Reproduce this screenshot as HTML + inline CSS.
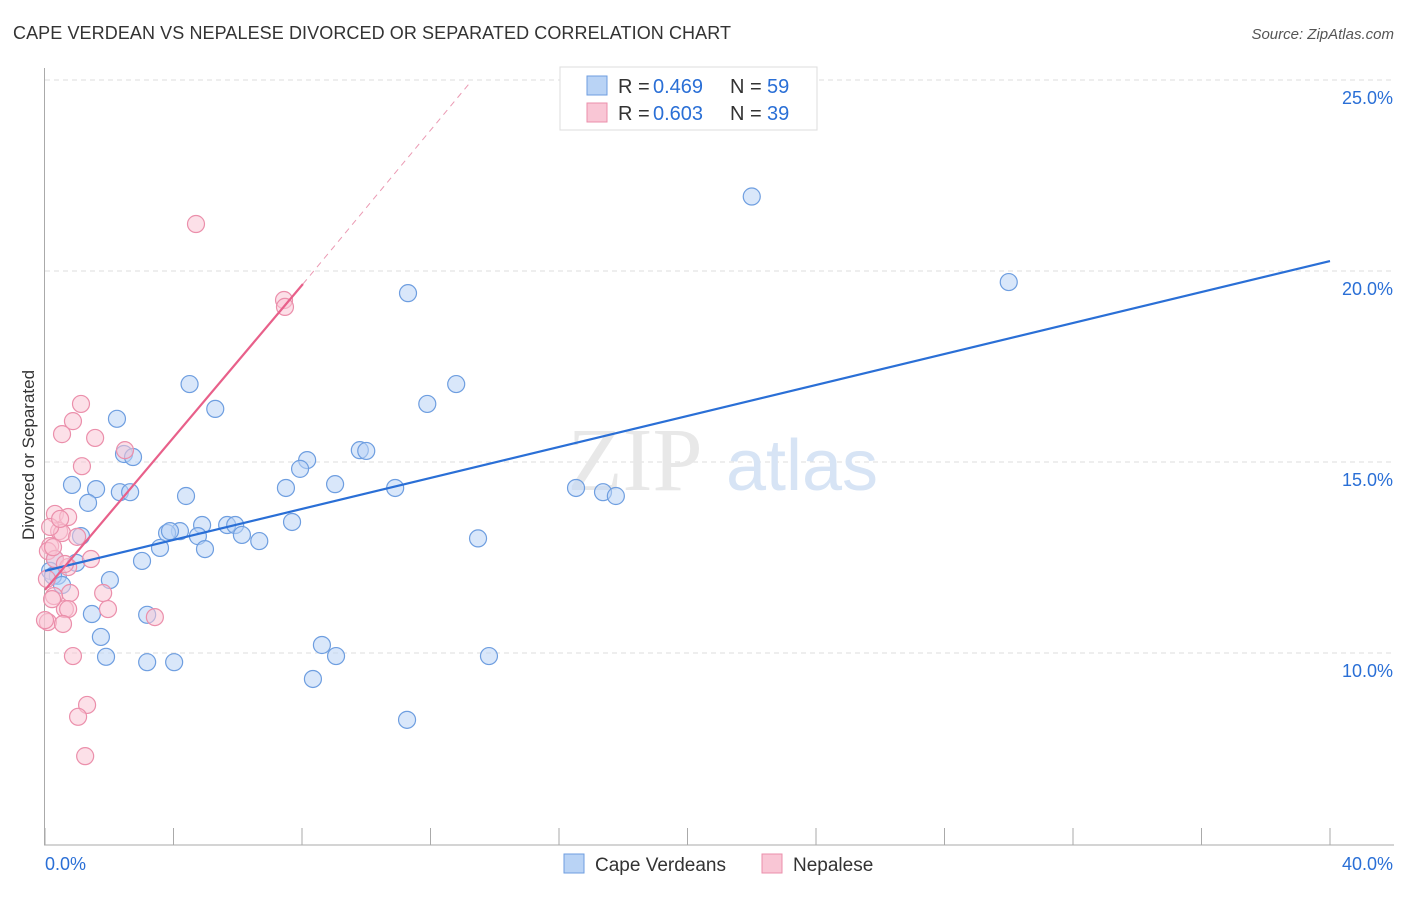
<!DOCTYPE html>
<html><head><meta charset="utf-8"><style>
body{margin:0;background:#fff;font-family:"Liberation Sans",sans-serif;}
</style></head><body>
<svg width="1406" height="892" xmlns="http://www.w3.org/2000/svg" font-family="Liberation Sans, sans-serif">
<text x="13" y="39" font-size="18" fill="#333" textLength="718">CAPE VERDEAN VS NEPALESE DIVORCED OR SEPARATED CORRELATION CHART</text>
<text x="1394" y="39" font-size="15" fill="#555" text-anchor="end" font-style="italic">Source: ZipAtlas.com</text>
<g id="grid"></g>
<text x="635" y="490" font-size="90" fill="#e8e8e8" font-family="Liberation Serif, serif" text-anchor="middle">ZIP</text>
<text x="802" y="490" font-size="72" fill="#d7e4f5" text-anchor="middle">atlas</text>
<g id="marks"></g>
<text transform="translate(34,455) rotate(-90)" font-size="17" fill="#333" text-anchor="middle">Divorced or Separated</text>
<g>
<rect x="560" y="67" width="257" height="63" fill="#fff" stroke="#ddd"/>
<rect x="587" y="76" width="20" height="19" fill="#b9d3f5" stroke="#6e9ee0"/>
<rect x="587" y="103" width="20" height="19" fill="#f9c6d5" stroke="#eb8fab"/>
<text x="618" y="93" font-size="20" fill="#333">R = </text><text x="653" y="93" font-size="20" fill="#2a6fd6">0.469</text>
<text x="730" y="93" font-size="20" fill="#333">N = </text><text x="767" y="93" font-size="20" fill="#2a6fd6">59</text>
<text x="618" y="120" font-size="20" fill="#333">R = </text><text x="653" y="120" font-size="20" fill="#2a6fd6">0.603</text>
<text x="730" y="120" font-size="20" fill="#333">N = </text><text x="767" y="120" font-size="20" fill="#2a6fd6">39</text>
</g>
<g>
<rect x="564" y="854" width="20" height="19" fill="#b9d3f5" stroke="#6e9ee0"/>
<text x="595" y="871" font-size="19" fill="#333">Cape Verdeans</text>
<rect x="762" y="854" width="20" height="19" fill="#f9c6d5" stroke="#eb8fab"/>
<text x="793" y="871" font-size="19" fill="#333">Nepalese</text>
</g>
</svg>
<script>
const xTicks=[0,4,8,12,16,20,24,28,32,36,40];
const yTicks=[10,15,20,25];
const blueX=[22.0,30.0,11.3,4.5,12.8,11.9,5.3,2.24,2.46,2.74,9.8,10.0,8.16,7.94,9.03,7.5,10.9,16.53,17.37,17.77,2.33,2.65,0.84,1.59,4.39,1.34,7.69,4.89,5.67,5.92,4.2,3.8,3.89,4.76,6.13,1.12,6.67,13.48,3.58,4.98,3.02,0.97,0.31,0.16,0.40,0.25,2.02,0.53,1.46,3.18,1.74,8.62,9.06,1.9,3.18,4.02,13.82,8.34,11.27];
const blueY=[21.95,19.71,19.42,17.04,17.04,16.52,16.39,16.13,15.21,15.13,15.31,15.29,15.05,14.82,14.42,14.32,14.32,14.32,14.21,14.11,14.21,14.21,14.4,14.29,14.11,13.93,13.43,13.35,13.35,13.35,13.19,13.14,13.19,13.06,13.09,13.06,12.93,13.0,12.75,12.72,12.41,12.36,12.46,12.15,12.02,12.02,11.91,11.78,11.02,11.0,10.42,10.21,9.92,9.9,9.76,9.76,9.92,9.32,8.25];
const pinkX=[4.7,7.44,7.47,1.12,0.87,0.53,1.56,2.49,1.15,0.31,0.72,0.44,0.53,1.0,0.16,0.09,1.43,0.31,0.72,0.06,0.78,1.81,0.28,0.62,0.72,1.96,3.42,0.09,0.56,0.87,1.31,1.03,1.25,0.25,0.16,0.47,0.62,0.0,0.22];
const pinkY=[21.23,19.24,19.06,16.52,16.07,15.73,15.63,15.31,14.89,13.64,13.56,13.19,13.14,13.04,12.8,12.67,12.46,12.46,12.25,11.94,11.57,11.57,11.49,11.15,11.15,11.15,10.94,10.81,10.76,9.92,8.64,8.33,7.3,12.77,13.3,13.51,12.33,10.86,11.41];
const blueLine=[[0,12.15],[40,20.26]];
const pinkLine=[[0,11.65],[8.03,19.66]];
const pinkDash=[[8.03,19.66],[13.2,24.9]];
const NS="http://www.w3.org/2000/svg";
const X=v=>45+v*32.125, Y=v=>653-(v-10)*38.2;
function mk(t,a,p){const e=document.createElementNS(NS,t);for(const k in a)e.setAttribute(k,a[k]);p.appendChild(e);return e;}
const grid=document.getElementById('grid'),marks=document.getElementById('marks');
yTicks.forEach(v=>{const l=mk('line',{x1:45,x2:1394,y1:Y(v),y2:Y(v),stroke:'#ddd','stroke-dasharray':'5,4'},grid);


const t=mk('text',{x:1393,y:Y(v)+24,'font-size':18,fill:'#2a6fd6','text-anchor':'end'},grid);t.textContent=v.toFixed(1)+'%';

});
const ax=mk('line',{x1:44.5,x2:44.5,y1:68,y2:845,stroke:'#aaa'},grid);


const bx=mk('line',{x1:44,x2:1394,y1:845,y2:845,stroke:'#aaa'},grid);


xTicks.forEach(v=>{const l=mk('line',{x1:X(v),x2:X(v),y1:828,y2:845,stroke:'#aaa'},grid);

});
[[0,'start',45],[40,'end',1393]].forEach(([v,a,x])=>{const t=mk('text',{x:x,y:870,'font-size':18,fill:'#2a6fd6','text-anchor':a},grid);t.textContent=v.toFixed(1)+'%';

});
function pts(xs,ys,fill,stroke,name){xs.forEach((x,i)=>{const c=mk('circle',{cx:X(x),cy:Y(ys[i]),r:8.5,fill:fill,'fill-opacity':0.55,stroke:stroke,'stroke-width':1.2},marks);

});}
pts(blueX,blueY,'#b9d3f5','#6e9ee0','cape-verdean-point');
pts(pinkX,pinkY,'#f9c6d5','#eb8fab','nepalese-point');
function ln(p,col,w,dash,name){const l=mk('line',{x1:X(p[0][0]),y1:Y(p[0][1]),x2:X(p[1][0]),y2:Y(p[1][1]),stroke:col,'stroke-width':w},marks);if(dash)l.setAttribute('stroke-dasharray',dash);

}
ln(blueLine,'#2a6fd6',2.2,null,'cape-verdean-trend-line');
ln(pinkLine,'#e8608a',2.2,null,'nepalese-trend-line');
ln(pinkDash,'#eb9ab3',1,'6,5','nepalese-trend-extension');
</script>
</body></html>
